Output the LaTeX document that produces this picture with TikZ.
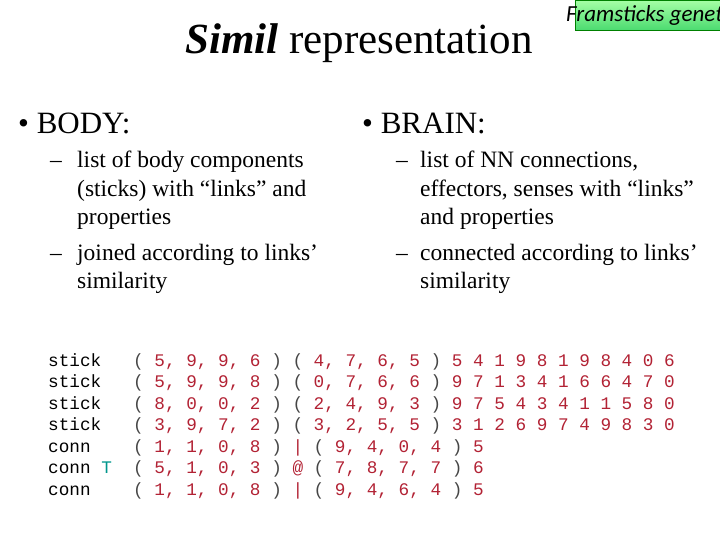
\documentclass[tikz,border=0pt]{standalone}
\usepackage{fontspec}
\setmainfont{Liberation Serif}
\setmonofont{Liberation Mono}
\newfontfamily\carl{Carlito}
\definecolor{numred}{RGB}{178,34,52}
\definecolor{pgray}{RGB}{70,70,70}
\definecolor{tteal}{RGB}{0,150,140}
\newcommand{\Pg}[1]{\textcolor{pgray}{#1}}
\newcommand{\Kb}[1]{\textcolor{black}{#1}}
\newcommand{\Tt}[1]{\textcolor{tteal}{#1}}
\begin{document}
\begin{tikzpicture}[x=1pt,y=-1pt]
\useasboundingbox (0,0) rectangle (720,540);
\clip (0,0) rectangle (720,540);
\tikzset{code/.style={anchor=base west,inner sep=0pt,text=numred,font=\fontsize{17.7}{20}\ttfamily},
 bul/.style={anchor=base west,inner sep=0pt,font=\fontsize{31}{34}\selectfont},
 sub/.style={anchor=base west,inner sep=0pt,font=\fontsize{23.5}{28}\selectfont}}
% green box
\shade[top color=green!35!white,bottom color=green!60!teal!70!white,draw=green!50!black] (575,0) rectangle (730,30);
\node[anchor=base west,inner sep=0pt,font=\carl\itshape\fontsize{23}{25}\selectfont] (fg) at (566,22) {Framsticks genetic};
% title
\node[anchor=base,inner sep=0pt,font=\fontsize{43}{46}\selectfont] (title) at (359,54) {\textbf{\textit{Simil}} representation};
% bullets
\node[bul] (body) at (18,134) {\textbullet\ BODY:};
\node[bul] (brain) at (362,134) {\textbullet\ BRAIN:};
\node[sub] (b1d) at (50,168) {–};
\node[sub] (b1a) at (77,168) {list of body components};
\node[sub] (b1b) at (77,196.5) {(sticks) with “links” and};
\node[sub] (b1c) at (77,225) {properties};
\node[sub] (b2d) at (50,260) {–};
\node[sub] (b2a) at (77,260) {joined according to links’};
\node[sub] (b2b) at (77,288.5) {similarity};
\node[sub] (r1d) at (396,168) {–};
\node[sub] (r1a) at (420,168) {list of NN connections,};
\node[sub] (r1b) at (420,196.5) {effectors, senses with “links”};
\node[sub] (r1c) at (420,225) {and properties};
\node[sub] (r2d) at (396,260) {–};
\node[sub] (r2a) at (420,260) {connected according to links’};
\node[sub] (r2b) at (420,288.5) {similarity};
% code
\node[code] (l1) at (48,366) {\Kb{stick}~~~\Pg{(}~5,~9,~9,~6~\Pg{)}~\Pg{(}~4,~7,~6,~5~\Pg{)}~5~4~1~9~8~1~9~8~4~0~6};
\node[code] (l2) at (48,387.5) {\Kb{stick}~~~\Pg{(}~5,~9,~9,~8~\Pg{)}~\Pg{(}~0,~7,~6,~6~\Pg{)}~9~7~1~3~4~1~6~6~4~7~0};
\node[code] (l3) at (48,409) {\Kb{stick}~~~\Pg{(}~8,~0,~0,~2~\Pg{)}~\Pg{(}~2,~4,~9,~3~\Pg{)}~9~7~5~4~3~4~1~1~5~8~0};
\node[code] (l4) at (48,430.5) {\Kb{stick}~~~\Pg{(}~3,~9,~7,~2~\Pg{)}~\Pg{(}~3,~2,~5,~5~\Pg{)}~3~1~2~6~9~7~4~9~8~3~0};
\node[code] (l5) at (48,452) {\Kb{conn}~~~~\Pg{(}~1,~1,~0,~8~\Pg{)}~|~\Pg{(}~9,~4,~0,~4~\Pg{)}~5};
\node[code] (l6) at (48,473.5) {\Kb{conn}~\Tt{T}~~\Pg{(}~5,~1,~0,~3~\Pg{)}~@~\Pg{(}~7,~8,~7,~7~\Pg{)}~6};
\node[code] (l7) at (48,495) {\Kb{conn}~~~~\Pg{(}~1,~1,~0,~8~\Pg{)}~|~\Pg{(}~9,~4,~6,~4~\Pg{)}~5};
\end{tikzpicture}
\end{document}
